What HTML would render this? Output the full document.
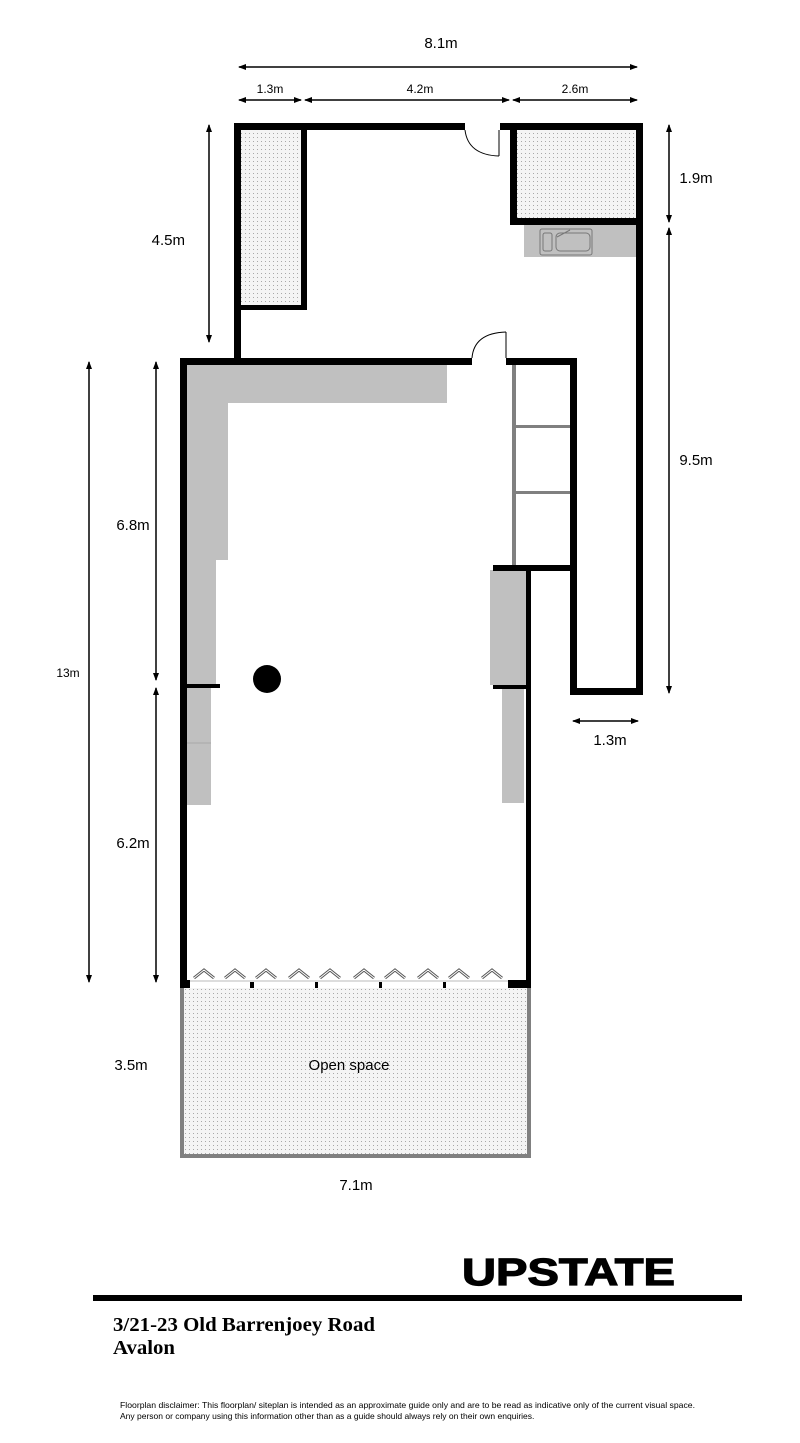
<!DOCTYPE html>
<html><head><meta charset="utf-8"><style>
html,body{margin:0;padding:0;background:#fff;}
svg{display:block;}
text{font-family:"Liberation Sans",sans-serif;fill:#000;}
</style></head><body>
<svg width="800" height="1443" viewBox="0 0 800 1443" xmlns="http://www.w3.org/2000/svg">
<defs>
<pattern id="dots" width="4" height="4" patternUnits="userSpaceOnUse">
<rect width="4" height="4" fill="#f4f4f4"/>
<rect x="1" y="1" width="1" height="1" fill="#a8a8a8"/>
</pattern>
<marker id="ah" markerWidth="8" markerHeight="8" refX="7" refY="4" orient="auto-start-reverse" markerUnits="userSpaceOnUse">
<path d="M0,1 L8,4 L0,7 Z" fill="#000"/>
</marker>
</defs>

<g stroke="#000" stroke-width="1.5" fill="none">
<line x1="239" y1="67" x2="637" y2="67" marker-start="url(#ah)" marker-end="url(#ah)"/>
<line x1="239" y1="100" x2="301" y2="100" marker-start="url(#ah)" marker-end="url(#ah)"/>
<line x1="305" y1="100" x2="509" y2="100" marker-start="url(#ah)" marker-end="url(#ah)"/>
<line x1="513" y1="100" x2="637" y2="100" marker-start="url(#ah)" marker-end="url(#ah)"/>
<line x1="209" y1="125" x2="209" y2="342" marker-start="url(#ah)" marker-end="url(#ah)"/>
<line x1="669" y1="125" x2="669" y2="222" marker-start="url(#ah)" marker-end="url(#ah)"/>
<line x1="669" y1="228" x2="669" y2="693" marker-start="url(#ah)" marker-end="url(#ah)"/>
<line x1="89" y1="362" x2="89" y2="982" marker-start="url(#ah)" marker-end="url(#ah)"/>
<line x1="156" y1="362" x2="156" y2="680" marker-start="url(#ah)" marker-end="url(#ah)"/>
<line x1="156" y1="688" x2="156" y2="982" marker-start="url(#ah)" marker-end="url(#ah)"/>
<line x1="573" y1="721" x2="638" y2="721" marker-start="url(#ah)" marker-end="url(#ah)"/>
</g>
<g font-size="14" text-anchor="middle">
<text x="441" y="48" font-size="15">8.1m</text>
<text x="270" y="93" font-size="12">1.3m</text>
<text x="420" y="93" font-size="12">4.2m</text>
<text x="575" y="93" font-size="12">2.6m</text>
<text x="185" y="245" font-size="15" text-anchor="end">4.5m</text>
<text x="696" y="183" font-size="15">1.9m</text>
<text x="696" y="465" font-size="15">9.5m</text>
<text x="68" y="677" font-size="12">13m</text>
<text x="133" y="530" font-size="15">6.8m</text>
<text x="133" y="848" font-size="15">6.2m</text>
<text x="610" y="745" font-size="15">1.3m</text>
<text x="131" y="1070" font-size="15">3.5m</text>
<text x="356" y="1190" font-size="15">7.1m</text>
</g>

<rect x="241" y="130" width="60" height="175" fill="url(#dots)"/>
<rect x="517" y="130" width="119" height="88" fill="url(#dots)"/>
<rect x="184" y="988" width="343" height="166" fill="url(#dots)"/>

<g fill="#c0c0c0">
<rect x="524" y="225" width="112" height="32"/>
<rect x="187" y="365" width="260" height="38"/>
<rect x="187" y="365" width="41" height="195"/>
<rect x="187" y="560" width="29" height="125"/>
<rect x="187" y="688" width="24" height="117"/>
<rect x="490" y="570" width="37" height="115"/>
<rect x="502" y="689" width="22" height="114"/>
</g>
<line x1="187" y1="743" x2="211" y2="743" stroke="#a8a8a8" stroke-width="1"/>
<g fill="none" stroke="#777" stroke-width="1">
<rect x="540" y="229" width="52" height="26" rx="2"/>
<rect x="543" y="233" width="9" height="18" rx="2"/>
<rect x="556" y="233" width="34" height="18" rx="4"/>
<line x1="557" y1="237" x2="570" y2="230"/>
</g>

<g fill="#000">
<rect x="234" y="123" width="7" height="240"/>
<rect x="234" y="123" width="231" height="7"/>
<rect x="500" y="123" width="143" height="7"/>
<rect x="301" y="123" width="6" height="187"/>
<rect x="234" y="305" width="73" height="5"/>
<rect x="510" y="123" width="7" height="102"/>
<rect x="510" y="218" width="133" height="7"/>
<rect x="636" y="123" width="7" height="572"/>
<rect x="570" y="688" width="73" height="7"/>
<rect x="570" y="358" width="7" height="337"/>
<rect x="180" y="358" width="292" height="7"/>
<rect x="506" y="358" width="71" height="7"/>
<rect x="180" y="358" width="7" height="630"/>
<rect x="493" y="565" width="84" height="6"/>
<rect x="526" y="565" width="5" height="120"/>
<rect x="187" y="684" width="33" height="4"/>
<rect x="493" y="685" width="38" height="4"/>
<rect x="526" y="685" width="5" height="303"/>
<rect x="180" y="980" width="10" height="8"/>
<rect x="508" y="980" width="23" height="8"/>
<rect x="250" y="982" width="4" height="6"/>
<rect x="315" y="982" width="3" height="6"/>
<rect x="379" y="982" width="3" height="6"/>
<rect x="443" y="982" width="3" height="6"/>
<circle cx="267" cy="679" r="14"/>
</g>
<g fill="#808080">
<rect x="512" y="365" width="4" height="200"/>
<rect x="516" y="425" width="54" height="3"/>
<rect x="516" y="491" width="54" height="3"/>
</g>
<g fill="none" stroke="#000" stroke-width="1">
<line x1="499" y1="130" x2="499" y2="156"/>
<path d="M465,130 Q468,155 499,156"/>
<line x1="506" y1="332" x2="506" y2="358"/>
<path d="M472,358 Q474,333 506,332"/>
</g>
<line x1="190" y1="981" x2="508" y2="981" stroke="#bbb" stroke-width="1"/>
<g fill="none" stroke="#555" stroke-width="3">
<path d="M194,978 L204,970 L214,978 M225,978 L235,970 L245,978 M256,978 L266,970 L276,978 M289,978 L299,970 L309,978 M320,978 L330,970 L340,978 M354,978 L364,970 L374,978 M385,978 L395,970 L405,978 M418,978 L428,970 L438,978 M449,978 L459,970 L469,978 M482,978 L492,970 L502,978"/>
</g>
<g fill="none" stroke="#fff" stroke-width="1">
<path d="M194,978 L204,970 L214,978 M225,978 L235,970 L245,978 M256,978 L266,970 L276,978 M289,978 L299,970 L309,978 M320,978 L330,970 L340,978 M354,978 L364,970 L374,978 M385,978 L395,970 L405,978 M418,978 L428,970 L438,978 M449,978 L459,970 L469,978 M482,978 L492,970 L502,978"/>
</g>
<g fill="#808080">
<rect x="180" y="988" width="4" height="170"/>
<rect x="527" y="988" width="4" height="170"/>
<rect x="180" y="1154" width="351" height="4"/>
</g>
<text x="349" y="1070" font-size="15" text-anchor="middle">Open space</text>

<text x="462" y="1285" font-size="38" font-weight="bold" stroke="#000" stroke-width="1.2" textLength="213" lengthAdjust="spacingAndGlyphs">UPSTATE</text>
<rect x="93" y="1295" width="649" height="6" fill="#000"/>
<text x="113" y="1331" style="font-family:'Liberation Serif',serif" font-size="20" font-weight="bold" textLength="262" lengthAdjust="spacingAndGlyphs">3/21-23 Old Barrenjoey Road</text>
<text x="113" y="1354" style="font-family:'Liberation Serif',serif" font-size="20" font-weight="bold" textLength="62" lengthAdjust="spacingAndGlyphs">Avalon</text>
<text x="120" y="1408" font-size="8.5" textLength="575" lengthAdjust="spacingAndGlyphs">Floorplan disclaimer: This floorplan/ siteplan is intended as an approximate guide only and are to be read as indicative only of the current visual space.</text>
<text x="120" y="1419" font-size="8.5">Any person or company using this information other than as a guide should always rely on their own enquiries.</text>
</svg>
</body></html>
